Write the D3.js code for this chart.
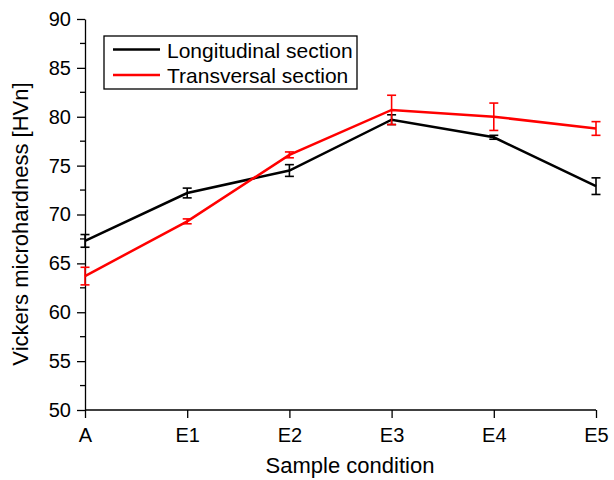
<!DOCTYPE html>
<html>
<head>
<meta charset="utf-8">
<script src="https://cdn.jsdelivr.net/npm/d3@7/dist/d3.min.js"></script>
<style>
  html, body { margin: 0; padding: 0; background: #fff; }
  svg { display: block; font-family: "Liberation Sans", Arial, sans-serif; }
</style>
</head>
<body>
<svg id="chart" width="614" height="480"></svg>
<script>
// Sample conditions along the x axis
const conditions = ["A", "E1", "E2", "E3", "E4", "E5"];

// Mean microhardness and standard deviation per section
const longitudinal = [67.3, 72.2, 74.5, 79.7, 77.9, 72.9];
const longitudinalErr = [0.65, 0.5, 0.6, 0.5, 0.2, 0.85];
const transversal = [63.7, 69.3, 76.1, 80.7, 80.0, 78.8];
const transversalErr = [0.9, 0.25, 0.3, 1.5, 1.4, 0.7];

const yTicks = [50, 55, 60, 65, 70, 75, 80, 85, 90];
const seriesNames = ["Longitudinal section", "Transversal section"];
const seriesColors = ["#000000", "#ff0000"];

const svg = d3.select("#chart");
const margin = { left: 85, right: 18, top: 19, bottom: 70 };
const W = 614, H = 480;
const FONT = "Liberation Sans, Arial, sans-serif";

const x = d3.scalePoint().domain(conditions).range([margin.left, W - margin.right]);
const y = d3.scaleLinear().domain([50, 90]).range([H - margin.bottom, margin.top]);

// Minor ticks on the y axis (every 2.5)
const yMinor = d3.range(52.5, 90, 5);
svg.append("g")
  .attr("transform", `translate(${margin.left},0)`)
  .selectAll("line").data(yMinor).join("line")
  .attr("x1", -5).attr("x2", 0)
  .attr("y1", d => y(d)).attr("y2", d => y(d))
  .attr("stroke", "#000").attr("stroke-width", 1.3);

// y axis
const yAxis = svg.append("g")
  .attr("transform", `translate(${margin.left},0)`)
  .call(d3.axisLeft(y).tickValues(yTicks).tickSize(8).tickPadding(6).tickSizeOuter(0));
yAxis.select(".domain").attr("stroke-width", 1.3);
yAxis.selectAll(".tick line").attr("stroke-width", 1.3);
yAxis.selectAll(".tick text").attr("font-size", 20).attr("fill", "#000")
  .attr("font-family", FONT);

// x axis
const xAxis = svg.append("g")
  .attr("transform", `translate(0,${H - margin.bottom})`)
  .call(d3.axisBottom(x).tickSize(8).tickPadding(10).tickSizeOuter(0));
xAxis.select(".domain").attr("stroke-width", 1.3)
  .attr("d", `M${margin.left},0H${W - margin.right}`);
xAxis.selectAll(".tick line").attr("stroke-width", 1.3);
xAxis.selectAll(".tick text").attr("font-size", 20).attr("fill", "#000")
  .attr("font-family", FONT);

// Axis titles
svg.append("text")
  .attr("x", 350)
  .attr("y", 473)
  .attr("text-anchor", "middle")
  .attr("font-size", 22)
  .text("Sample condition");

svg.append("text")
  .attr("transform", `translate(28,224) rotate(-90)`)
  .attr("text-anchor", "middle")
  .attr("font-size", 22)
  .text("Vickers microhardness [HVn]");

// Series
const series = [
  { values: longitudinal, err: longitudinalErr, color: seriesColors[0] },
  { values: transversal, err: transversalErr, color: seriesColors[1] }
];

const line = d3.line().x((d, i) => x(conditions[i])).y(d => y(d));
const capHalf = 4.5;

series.forEach(s => {
  const g = svg.append("g");
  // error bars
  const eb = g.selectAll("g.err").data(s.values.map((v, i) => ({ v, e: s.err[i], c: conditions[i] })))
    .join("g").attr("stroke", s.color).attr("stroke-width", 1.6);
  eb.append("line")
    .attr("x1", d => x(d.c)).attr("x2", d => x(d.c))
    .attr("y1", d => y(d.v - d.e)).attr("y2", d => y(d.v + d.e));
  eb.append("line")
    .attr("x1", d => x(d.c) - capHalf).attr("x2", d => x(d.c) + capHalf)
    .attr("y1", d => y(d.v + d.e)).attr("y2", d => y(d.v + d.e));
  eb.append("line")
    .attr("x1", d => x(d.c) - capHalf).attr("x2", d => x(d.c) + capHalf)
    .attr("y1", d => y(d.v - d.e)).attr("y2", d => y(d.v - d.e));
  // line
  g.append("path")
    .attr("d", line(s.values))
    .attr("fill", "none")
    .attr("stroke", s.color)
    .attr("stroke-width", 2.5);
});

// Legend
const lg = svg.append("g").attr("transform", "translate(104,36)");
lg.append("rect").attr("width", 253).attr("height", 53)
  .attr("fill", "#fff").attr("stroke", "#000").attr("stroke-width", 1.3);
seriesNames.forEach((name, i) => {
  const yy = 13.5 + i * 25.5;
  lg.append("line").attr("x1", 9).attr("x2", 56).attr("y1", yy).attr("y2", yy)
    .attr("stroke", seriesColors[i]).attr("stroke-width", 2.5);
  lg.append("text").attr("x", 63).attr("y", yy + 8)
    .attr("font-size", 21).text(name);
});
</script>
</body>
</html>
